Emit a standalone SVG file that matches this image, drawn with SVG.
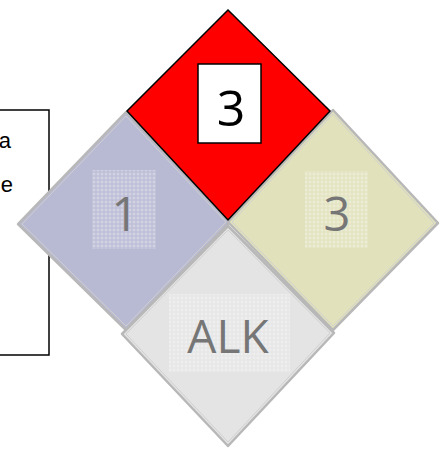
<svg xmlns="http://www.w3.org/2000/svg" width="446" height="450" viewBox="0 0 446 450">
  <style>
    .label { font-family: "Open Sans", "Noto Sans", "DejaVu Sans", sans-serif; fill: #767676; text-anchor: middle; }
    .side { stroke: #b8b8b8; stroke-width: 2.5; stroke-linejoin: round; }
    .inner { fill: none; stroke: #d0d0d0; stroke-width: 1; }
    .note { font-family: "Liberation Sans", Arial, sans-serif; font-size: 22px; fill: #000; text-anchor: end; }
  </style>
  <defs>
    <!-- faint cross-hatch texture behind the ratings -->
    <pattern id="dots" width="4" height="4" patternUnits="userSpaceOnUse">
      <rect width="4" height="4" fill="#ffffff" opacity="0.1"/>
      <rect x="1.5" y="0.5" width="1" height="3" fill="#ffffff" opacity="0.3"/>
      <rect x="0.5" y="1.5" width="3" height="1" fill="#ffffff" opacity="0.3"/>
    </pattern>
  </defs>
  <rect width="446" height="450" fill="#ffffff"/>

  <!-- side note box, mostly off the left edge -->
  <g id="note">
    <rect x="-200" y="110" width="249" height="245" fill="#ffffff" stroke="#000" stroke-width="1.5"/>
    <text class="note" x="11" y="148">a</text>
    <text class="note" x="13" y="192">e</text>
  </g>

  <!-- health (blue) -->
  <g id="health">
    <polygon class="side" points="126,112 230,222 126,330 18,224" fill="#b8b9d2"/>
    <polygon class="inner" points="126,116 226,222 126,326 22,224"/>
    <rect x="92" y="170" width="64" height="79" fill="url(#dots)"/>
    <text class="label" x="125" y="231" font-size="47">1</text>
  </g>

  <!-- reactivity (yellow) -->
  <g id="reactivity">
    <polygon class="side" points="333,110 438,223 333,330 228,222" fill="#e1e1bc"/>
    <polygon class="inner" points="333,114 434,223 333,326 232,222"/>
    <rect x="305" y="171" width="63" height="77" fill="url(#dots)"/>
    <text class="label" x="337" y="231" font-size="47">3</text>
  </g>

  <!-- special (gray) -->
  <g id="special">
    <polygon class="side" points="228,226 334,333 228,446 122,334" fill="#e4e4e4"/>
    <polygon class="inner" points="228,230 330,333 228,442 126,334"/>
    <rect x="169" y="294" width="121" height="78" fill="url(#dots)"/>
    <text class="label" x="228" y="353" font-size="46">ALK</text>
  </g>

  <!-- flammability (red) -->
  <g id="flammability">
    <polygon points="228,10 330,111 228,220 127,111" fill="#ff0000" stroke="#000" stroke-width="1.5" stroke-linejoin="miter"/>
    <rect x="198" y="64" width="63" height="79" fill="#ffffff" stroke="#000" stroke-width="1.5"/>
    <text x="231" y="126" font-family="'Open Sans', 'Noto Sans', sans-serif" font-size="50" fill="#000" text-anchor="middle">3</text>
  </g>
</svg>
